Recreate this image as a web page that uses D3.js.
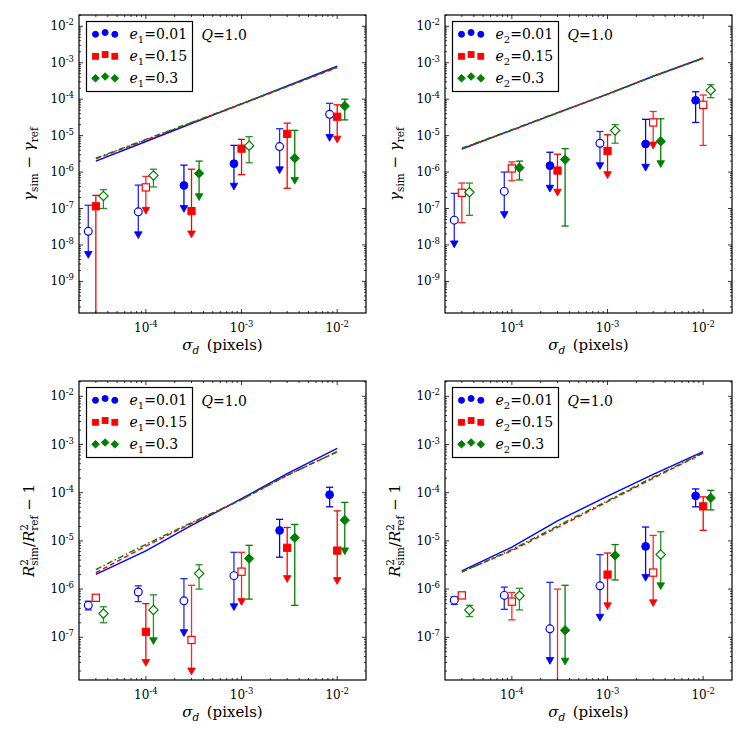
<!DOCTYPE html>
<html><head><meta charset="utf-8">
<script src="https://cdn.jsdelivr.net/npm/d3@7"></script>
<style>body{margin:0;background:#fff} svg{display:block} text{font-family:"DejaVu Serif",serif;fill:#000}</style>
</head><body><svg id="c" width="747" height="747"></svg>
<script>
// ---------------- data ----------------
const sigma = [3e-5, 1e-4, 3e-4, 1e-3, 3e-3, 1e-2];     // red points & model lines
const offsets = [1/1.2, 1, 1.2];                          // blue, red, green x-offset factors
const eValues = ["0.01", "0.15", "0.3"];
const colors = ["#0000ff", "#ff0000", "#007f00"];
const xTicks = [1e-4, 1e-3, 1e-2];
const yTicksTop = [1e-9, 1e-8, 1e-7, 1e-6, 1e-5, 1e-4, 1e-3, 1e-2];
const yTicksBottom = [1e-7, 1e-6, 1e-5, 1e-4, 1e-3, 1e-2];

// Panel 1: gamma_1
const g1Line = [[2.0e-6, 6.9e-6, 2.15e-5, 7.4e-5, 2.3e-4, 8.0e-4],
                [2.3e-6, 7.6e-6, 2.25e-5, 7.3e-5, 2.2e-4, 7.4e-4],
                [2.4e-6, 7.9e-6, 2.3e-5, 7.5e-5, 2.25e-4, 7.6e-4]];
const g1Val = [[2.37e-8, 8.1e-8, 4.3e-7, 1.7e-6, 5.0e-6, 3.84e-5],
               [1.15e-7, 3.8e-7, 8.5e-8, 4.4e-6, 1.12e-5, 3.3e-5],
               [2.2e-7, 8.1e-7, 9.2e-7, 5.3e-6, 2.4e-6, 6.5e-5]];
const g1Hi = [[1.23e-7, 4.4e-7, 1.55e-6, 5.4e-6, 1.55e-5, 7.7e-5],
              [2.3e-7, 7.6e-7, 1.2e-6, 7.9e-6, 2.2e-5, 7.0e-5],
              [3.3e-7, 1.2e-6, 2.0e-6, 9.4e-6, 1.4e-5, 1.0e-4]];
const g1Lo = [[5.5e-9, 1.9e-8, 1.0e-7, 4.1e-7, 1.15e-6, 8.9e-6],
              [1e-12, 8.9e-8, 2.0e-8, 8.5e-7, 3.6e-7, 8.0e-6],
              [1.0e-7, 3.9e-7, 2.1e-7, 1.8e-6, 5.9e-7, 2.7e-5]];
const g1Open = [[1,1,0,0,1,1],[0,1,0,0,0,0],[1,1,0,1,0,0]];
const g1Arrow = [[1,1,1,1,1,1],[0,1,1,0,0,1],[0,0,1,0,1,0]];

// Panel 2: gamma_2
const g2Line = [[4.3e-6, 1.42e-5, 4.2e-5, 1.38e-4, 4.25e-4, 1.35e-3],
                [4.4e-6, 1.4e-5, 4.2e-5, 1.36e-4, 4.2e-4, 1.32e-3],
                [4.5e-6, 1.45e-5, 4.3e-5, 1.38e-4, 4.25e-4, 1.33e-3]];
const g2Val = [[4.8e-8, 2.95e-7, 1.5e-6, 6.2e-6, 5.9e-6, 9.3e-5],
               [2.7e-7, 1.26e-6, 1.1e-6, 3.8e-6, 2.3e-5, 7.0e-5],
               [2.8e-7, 1.32e-6, 2.2e-6, 1.38e-5, 7.0e-6, 1.77e-4]];
const g2Hi = [[2.6e-7, 1.0e-6, 3.5e-6, 1.3e-5, 2.8e-5, 1.6e-4],
              [5.0e-7, 1.9e-6, 3.1e-6, 1.06e-5, 4.6e-5, 1.3e-4],
              [5.0e-7, 2.0e-6, 4.4e-6, 2.0e-5, 2.9e-5, 2.5e-4]];
const g2Lo = [[1.07e-8, 6.8e-8, 3.6e-7, 1.5e-6, 1.35e-6, 2.3e-5],
              [4.1e-8, 5.8e-7, 2.8e-7, 8.5e-7, 5.5e-6, 5.4e-6],
              [6.5e-8, 6.1e-7, 3.3e-8, 6.2e-6, 1.7e-6, 1.1e-4]];
const g2Open = [[1,1,0,1,0,0],[1,1,0,0,1,1],[1,0,0,1,0,1]];
const g2Arrow = [[1,1,1,1,1,0],[0,0,1,1,1,0],[0,0,0,0,1,0]];

// Panel 3: R^2 with e_1
const r1Line = [[2.03e-6, 6.2e-6, 2.1e-5, 7.5e-5, 2.5e-4, 8.3e-4],
                [2.2e-6, 7.8e-6, 2.3e-5, 7.2e-5, 2.3e-4, 7.1e-4],
                [2.55e-6, 8.5e-6, 2.4e-5, 7.2e-5, 2.3e-4, 7.1e-4]];
const r1Val = [[4.6e-7, 8.7e-7, 5.7e-7, 1.9e-6, 1.65e-5, 9.1e-5],
               [6.6e-7, 1.3e-7, 8.8e-8, 2.3e-6, 7.2e-6, 6.3e-6],
               [3.1e-7, 3.7e-7, 2.1e-6, 4.3e-6, 1.16e-5, 2.7e-5]];
const r1Hi = [[5.6e-7, 1.17e-6, 1.65e-6, 5.8e-6, 2.8e-5, 1.3e-4],
              [6.6e-7, 5.0e-7, 1.2e-6, 5.8e-6, 1.9e-5, 4.2e-5],
              [4.3e-7, 7.6e-7, 3.2e-6, 8.1e-6, 2.2e-5, 6.3e-5]];
const r1Lo = [[3.7e-7, 5.5e-7, 1.25e-7, 4.3e-7, 4.6e-6, 5.1e-5],
              [6.6e-7, 3.0e-8, 2.0e-8, 5.5e-7, 1.65e-6, 1.5e-6],
              [2.0e-7, 8.5e-8, 1.0e-6, 6.2e-7, 4.6e-7, 6.2e-6]];
const r1Open = [[1,1,1,1,0,0],[1,0,1,1,0,0],[1,1,1,0,0,0]];
const r1Arrow = [[0,0,1,1,0,0],[0,1,1,1,1,1],[0,1,0,0,0,1]];

// Panel 4: R^2 with e_2
const r2Line = [[2.4e-6, 7.4e-6, 2.6e-5, 8.5e-5, 2.4e-4, 7.1e-4],
                [2.3e-6, 6.3e-6, 1.9e-5, 6.5e-5, 2.0e-4, 6.6e-4],
                [2.25e-6, 6.6e-6, 2.05e-5, 6.8e-5, 2.1e-4, 6.7e-4]];
const r2Val = [[5.9e-7, 7.4e-7, 1.5e-7, 1.17e-6, 7.7e-6, 8.6e-5],
               [7.4e-7, 5.5e-7, 5e-9, 2.0e-6, 2.2e-6, 5.2e-5],
               [3.7e-7, 7.3e-7, 1.4e-7, 5.0e-6, 5.2e-6, 7.8e-5]];
const r2Hi = [[6.9e-7, 1.1e-6, 1.38e-6, 5.2e-6, 1.94e-5, 1.2e-4],
              [7.4e-7, 8.5e-7, 1.0e-6, 5.6e-6, 1.3e-5, 8.2e-5],
              [4.6e-7, 1.04e-6, 1.2e-6, 8.4e-6, 1.55e-5, 1.12e-4]];
const r2Lo = [[4.8e-7, 3.8e-7, 3.3e-8, 2.6e-7, 1.75e-6, 5.1e-5],
              [7.4e-7, 2.3e-7, 1e-12, 4.5e-7, 5.2e-7, 1.66e-5],
              [2.7e-7, 3.7e-7, 3.2e-8, 1.55e-6, 1.17e-6, 4.4e-5]];
const r2Open = [[1,1,1,1,0,0],[1,1,1,0,1,0],[1,1,0,0,1,0]];
const r2Arrow = [[0,0,1,1,1,0],[0,0,0,1,1,0],[0,0,1,0,1,0]];

// ---------------- drawing ----------------
const svg = d3.select("#c");
const panels = [
  {l:79,  t:15,  r:366, b:313, yd:[1.36e-10, 2.04e-2], yt:yTicksTop, sub:"1", kind:"g", line:g1Line, val:g1Val, hi:g1Hi, lo:g1Lo, open:g1Open, arrow:g1Arrow},
  {l:445, t:15,  r:732, b:313, yd:[1.36e-10, 2.04e-2], yt:yTicksTop, sub:"2", kind:"g", line:g2Line, val:g2Val, hi:g2Hi, lo:g2Lo, open:g2Open, arrow:g2Arrow},
  {l:79,  t:381, r:366, b:680, yd:[1.3e-8, 2.08e-2],   yt:yTicksBottom, sub:"1", kind:"r", line:r1Line, val:r1Val, hi:r1Hi, lo:r1Lo, open:r1Open, arrow:r1Arrow},
  {l:445, t:381, r:732, b:680, yd:[1.3e-8, 2.08e-2],   yt:yTicksBottom, sub:"2", kind:"r", line:r2Line, val:r2Val, hi:r2Hi, lo:r2Lo, open:r2Open, arrow:r2Arrow}
];
const dashes = [null, "5,3", "6,2.5,1.5,2.5"];

function marker(g, k, x, y, size, open, col) {
  let el;
  if (k === 0) el = g.append("circle").attr("cx", x).attr("cy", y).attr("r", size);
  else if (k === 1) el = g.append("rect").attr("x", x - size).attr("y", y - size).attr("width", 2*size).attr("height", 2*size);
  else { const d = size * 1.3; el = g.append("path").attr("d", `M${x},${y-d}L${x+d},${y}L${x},${y+d}L${x-d},${y}Z`); }
  el.attr("fill", open ? "#fff" : col).attr("stroke", col).attr("stroke-width", open ? 1.2 : 1);
}

panels.forEach((p, pi) => {
  const x = d3.scaleLog().domain([2e-5, 2e-2]).range([p.l, p.r]);
  const y = d3.scaleLog().domain(p.yd).range([p.b, p.t]);
  const g = svg.append("g");
  const cid = "clip" + pi;
  svg.append("clipPath").attr("id", cid).append("rect").attr("x", p.l).attr("y", p.t).attr("width", p.r - p.l).attr("height", p.b - p.t);
  const pl = g.append("g").attr("clip-path", `url(#${cid})`);

  // model lines
  [0, 1, 2].forEach(s => {
    const line = d3.line().x((d, i) => x(sigma[i])).y(d => y(d));
    pl.append("path").attr("d", line(p.line[s])).attr("fill", "none")
      .attr("stroke", colors[s]).attr("stroke-width", 1.4)
      .attr("stroke-dasharray", dashes[s]);
  });

  // error bars and points
  [0, 1, 2].forEach(s => {
    sigma.forEach((sv, i) => {
      const xx = x(sv * offsets[s]);
      const v = p.val[s][i], hi = p.hi[s][i], lo = p.lo[s][i];
      const col = colors[s];
      const ecol = p.open[s][i] ? d3.interpolateRgb(col, "#fff")(0.15) : col;
      if (hi > v || lo < v) {
        pl.append("line").attr("x1", xx).attr("x2", xx).attr("y1", y(hi)).attr("y2", y(lo))
          .attr("stroke", ecol).attr("stroke-width", 1.3);
        if (hi > v) pl.append("line").attr("x1", xx - 3.6).attr("x2", xx + 3.6).attr("y1", y(hi)).attr("y2", y(hi))
          .attr("stroke", ecol).attr("stroke-width", 1.3);
        if (p.arrow[s][i]) {
          const yl = y(lo);
          pl.append("path").attr("d", `M${xx-3.8},${yl-3}L${xx+3.8},${yl-3}L${xx},${yl+3.8}Z`).attr("fill", col).attr("stroke", col).attr("stroke-width", 0.8);
        } else if (lo < v && lo > 1e-11) {
          pl.append("line").attr("x1", xx - 3.6).attr("x2", xx + 3.6).attr("y1", y(lo)).attr("y2", y(lo))
            .attr("stroke", ecol).attr("stroke-width", 1.3);
        }
      }
      marker(pl, s, xx, y(v), s === 0 ? 3.9 : 3.6, p.open[s][i], col);
    });
  });

  // frame
  g.append("rect").attr("x", p.l).attr("y", p.t).attr("width", p.r - p.l).attr("height", p.b - p.t)
    .attr("fill", "none").attr("stroke", "#000").attr("stroke-width", 1.2);

  // ticks (inward, all sides)
  const tk = g.append("g").attr("stroke", "#000").attr("stroke-width", 0.8);
  const minorX = [], minorY = [];
  for (let e = -5; e <= -1; e++) for (let m = 2; m <= 9; m++) { const v = m * Math.pow(10, e); if (v > 2e-5 && v < 2e-2) minorX.push(v); }
  for (let e = -11; e <= -1; e++) for (let m = 2; m <= 9; m++) { const v = m * Math.pow(10, e); if (v > p.yd[0] && v < p.yd[1]) minorY.push(v); }
  xTicks.forEach(v => { const xx = x(v);
    tk.append("line").attr("x1", xx).attr("x2", xx).attr("y1", p.b).attr("y2", p.b - 4);
    tk.append("line").attr("x1", xx).attr("x2", xx).attr("y1", p.t).attr("y2", p.t + 4); });
  minorX.forEach(v => { const xx = x(v);
    tk.append("line").attr("x1", xx).attr("x2", xx).attr("y1", p.b).attr("y2", p.b - 2);
    tk.append("line").attr("x1", xx).attr("x2", xx).attr("y1", p.t).attr("y2", p.t + 2); });
  p.yt.forEach(v => { const yy = y(v);
    tk.append("line").attr("x1", p.l).attr("x2", p.l + 4).attr("y1", yy).attr("y2", yy);
    tk.append("line").attr("x1", p.r).attr("x2", p.r - 4).attr("y1", yy).attr("y2", yy); });
  minorY.forEach(v => { const yy = y(v);
    tk.append("line").attr("x1", p.l).attr("x2", p.l + 2).attr("y1", yy).attr("y2", yy);
    tk.append("line").attr("x1", p.r).attr("x2", p.r - 2).attr("y1", yy).attr("y2", yy); });

  // tick labels
  xTicks.forEach(v => {
    const t = g.append("text").attr("x", x(v)).attr("y", p.b + 19).attr("text-anchor", "middle").style("font-size", "12px");
    t.append("tspan").text("10");
    t.append("tspan").attr("dy", -5).style("font-size", "8.5px").text("-" + Math.round(-Math.log10(v)));
  });
  p.yt.forEach(v => {
    const t = g.append("text").attr("x", p.l - 5).attr("y", y(v) + 4).attr("text-anchor", "end").style("font-size", "12px");
    t.append("tspan").text("10");
    t.append("tspan").attr("dy", -5).style("font-size", "8.5px").text("-" + Math.round(-Math.log10(v)));
  });

  // x label
  const xl = g.append("text").attr("x", (p.l + p.r) / 2).attr("y", p.b + 37).attr("text-anchor", "middle").style("font-size", "15px");
  xl.append("tspan").style("font-style", "italic").text("σ");
  xl.append("tspan").attr("dy", 4).style("font-size", "10.5px").style("font-style", "italic").text("d");
  xl.append("tspan").attr("dy", -4).text("\u2002(pixels)");

  // y label
  const yl = g.append("text").attr("transform", `translate(${p.l - 45},${(p.t + p.b) / 2}) rotate(-90)`)
    .attr("text-anchor", "middle").style("font-size", "15px");
  if (p.kind === "g") {
    yl.append("tspan").style("font-style", "italic").text("γ");
    yl.append("tspan").attr("dy", 4).style("font-size", "10.5px").text("sim");
    yl.append("tspan").attr("dy", -4).text(" \u2212 ");
    yl.append("tspan").style("font-style", "italic").text("γ");
    yl.append("tspan").attr("dy", 4).style("font-size", "10.5px").text("ref");
  } else {
    yl.append("tspan").style("font-style", "italic").text("R");
    yl.append("tspan").attr("dy", -6).style("font-size", "10.5px").text("2");
    yl.append("tspan").attr("dy", 10).attr("dx", -6.7).style("font-size", "10.5px").text("sim");
    yl.append("tspan").attr("dy", -4).text("/");
    yl.append("tspan").style("font-style", "italic").text("R");
    yl.append("tspan").attr("dy", -6).style("font-size", "10.5px").text("2");
    yl.append("tspan").attr("dy", 10).attr("dx", -6.7).style("font-size", "10.5px").text("ref");
    yl.append("tspan").attr("dy", -4).text(" \u2212 1");
  }

  // legend
  const lx = p.l + 7.5, ly = p.t + 6.5, lw = 106, lh = 70;
  g.append("rect").attr("x", lx).attr("y", ly).attr("width", lw).attr("height", lh)
    .attr("fill", "#fff").attr("stroke", "#000").attr("stroke-width", 1.2);
  [0, 1, 2].forEach(s => {
    const ry = ly + 12.8 + s * 22;
    [9, 18.6, 28.3].forEach((dx, j) => marker(g, s, lx + dx, ry + (j === 1 ? -1.8 : 0), s === 0 ? 3 : 2.9, false, colors[s]));
    const t = g.append("text").attr("x", lx + 43).attr("y", ry + 5).style("font-size", "14px");
    t.append("tspan").style("font-style", "italic").text("e");
    t.append("tspan").attr("dy", 4).style("font-size", "10px").text(p.sub);
    t.append("tspan").attr("dy", -4).text("=" + eValues[s]);
  });
  const q = g.append("text").attr("x", lx + lw + 9).attr("y", ly + 18.5).style("font-size", "14px");
  q.append("tspan").style("font-style", "italic").text("Q");
  q.append("tspan").text("=1.0");
});
</script>
</body></html>
